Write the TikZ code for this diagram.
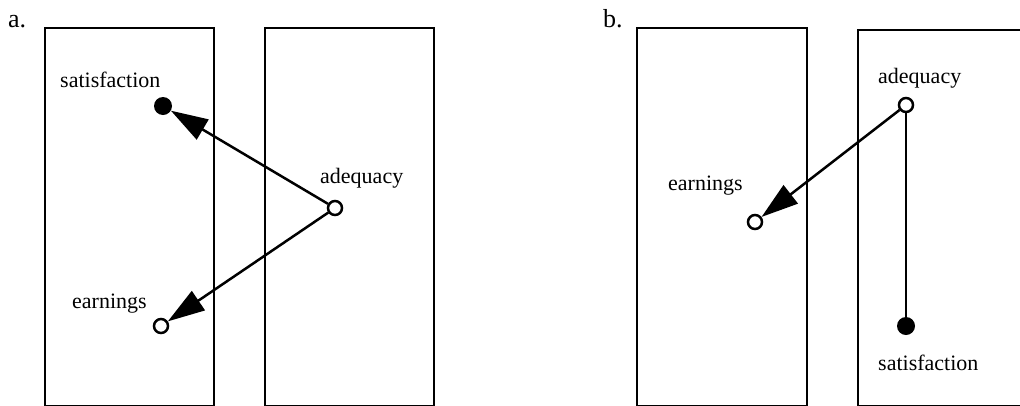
\documentclass[tikz,border=0pt]{standalone}
\usepackage{fontspec}
\setmainfont{Liberation Serif}
\usetikzlibrary{arrows.meta}
\begin{document}
\begin{tikzpicture}[x=1pt,y=-1pt,
  panel/.style={draw=black,line width=2.5pt},
  opendot/.style={circle,draw=black,fill=white,line width=2.5pt,inner sep=0pt,minimum size=14pt},
  filleddot/.style={circle,fill=black,inner sep=0pt,minimum size=18pt},
  lbl/.style={anchor=base west,inner sep=0pt,font=\fontsize{22}{26}\selectfont},
  tag/.style={anchor=base west,inner sep=0pt,font=\fontsize{26}{30}\selectfont},
  link/.style={line width=2.5pt},
  arrow/.style={link,-{Triangle[length=37pt,width=23pt]}}]
\useasboundingbox (0,0) rectangle (1020,405);
% panel a
\node[tag] (la) at (8,27) {a.};
\draw[panel] (45,28) rectangle (214,406);
\draw[panel] (265,28) rectangle (434,406);
\node[lbl] (tsatA) at (60,87) {satisfaction};
\node[lbl] (tadqA) at (320,183) {adequacy};
\node[lbl] (tearA) at (72,308) {earnings};
\node[filleddot] (satA) at (163,106) {};
\node[opendot] (adqA) at (335,208) {};
\node[opendot] (earA) at (161,326) {};
\draw[arrow] (adqA) -- (satA);
\draw[arrow] (adqA) -- (earA);
% panel b
\node[tag] (lb) at (603,27) {b.};
\draw[panel] (637,28) rectangle (807,406);
\draw[panel] (858,30) rectangle (1030,406);
\node[lbl] (tadqB) at (878,83) {adequacy};
\node[lbl] (tearB) at (668,190) {earnings};
\node[lbl] (tsatB) at (878,370) {satisfaction};
\node[opendot] (adqB) at (906,105) {};
\node[opendot] (earB) at (755,222) {};
\node[filleddot] (satB) at (906,326) {};
\draw[link] (adqB) -- (satB);
\draw[arrow] (adqB) -- (earB);
\end{tikzpicture}
\end{document}
